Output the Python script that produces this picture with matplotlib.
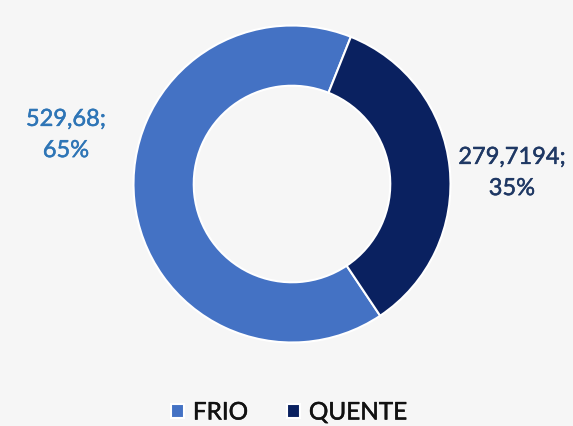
import matplotlib.pyplot as plt
import matplotlib.patheffects as pe

categories = ['FRIO', 'QUENTE']
values = [529.68, 279.7194]
value_labels = ['529,68;\n65%', '279,7194;\n35%']
colors = ['#4472C4', '#0A2160']
label_colors = ['#2E75B6', '#1F3864']

plt.rcParams['font.family'] = ['Lato', 'DejaVu Sans']

fig = plt.figure(figsize=(5.73, 4.26), dpi=100)
fig.patch.set_facecolor('#F6F6F6')
# axes placed so the ring is centred around (292, 184) px
ax = fig.add_axes([(292 - 170) / 573, 1 - (184 + 170) / 426, 340 / 573, 340 / 426])
ax.set_facecolor('none')

# FRIO ends ~22 deg right of top (clockwise), QUENTE follows it
start = 68.2 + 360 * values[0] / sum(values)
wedges, _ = ax.pie(values, colors=colors, startangle=start,
                   counterclock=False, radius=158.5 / 170,
                   wedgeprops=dict(width=0.38 * 158.5 / 170, edgecolor='white', linewidth=1.5))
ax.set_xlim(-1, 1)
ax.set_ylim(-1, 1)
ax.set_aspect('equal')

# data labels outside the ring (thin stroke to get a slightly heavier look)
for txt, col, (px, py) in zip(value_labels, label_colors, [(66, 135), (512, 173)]):
    fig.text(px / 573, 1 - py / 426, txt, color=col, fontsize=17,
             ha='center', va='center', linespacing=1.6,
             path_effects=[pe.withStroke(linewidth=0.35, foreground=col)])

leg = fig.legend(wedges, categories, loc='center', bbox_to_anchor=(289 / 573, 1 - 413 / 426),
                 ncol=2, frameon=False, handlelength=0.55, handleheight=0.55,
                 handletextpad=0.35, columnspacing=1.6, prop=dict(size=17.5))
for t in leg.get_texts():
    t.set_color('#111111')
    t.set_path_effects([pe.withStroke(linewidth=0.35, foreground='#111111')])

plt.savefig('out.png', dpi=100, facecolor=fig.get_facecolor())
